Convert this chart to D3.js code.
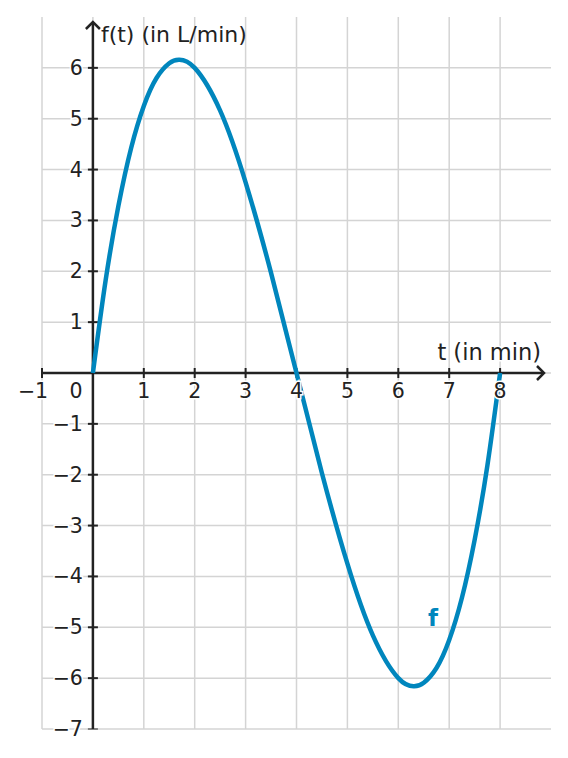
<!DOCTYPE html>
<html><head><meta charset="utf-8">
<script src="https://cdn.jsdelivr.net/npm/d3@7"></script>
<style>body{margin:0;background:#fff}text{font-family:"DejaVu Sans",sans-serif}</style>
</head><body><svg id="c" width="568" height="758"></svg>
<script>
const tVals = [0,0.25,0.5,0.75,1,1.25,1.5,1.69,2,2.5,3,3.5,4,4.5,5,5.5,6,6.31,6.5,6.75,7,7.25,7.5,7.75,8];
const fVals = [0,1.82,3.28,4.42,5.25,5.8,6.09,6.16,6.0,5.16,3.75,1.97,0,-1.97,-3.75,-5.16,-6.0,-6.16,-6.09,-5.8,-5.25,-4.42,-3.28,-1.82,0];
const xTicks = [-1,0,1,2,3,4,5,6,7,8];
const yTicks = [-7,-6,-5,-4,-3,-2,-1,1,2,3,4,5,6];
const xGrid = [-1,0,1,2,3,4,5,6,7,8];
const yGrid = [-7,-6,-5,-4,-3,-2,-1,0,1,2,3,4,5,6];

const svg = d3.select("#c");
const x = d3.scaleLinear().domain([-1,9]).range([42,551]);
const y = d3.scaleLinear().domain([-7,7]).range([729,17]);
const gridC = "#d4d4d4", axC = "#222", curveC = "#0086bd";

svg.append("g").selectAll("line").data(xGrid).join("line")
  .attr("x1",d=>x(d)).attr("x2",d=>x(d)).attr("y1",y(7)).attr("y2",y(-7))
  .attr("stroke",gridC).attr("stroke-width",1.5);
svg.append("g").selectAll("line").data(yGrid).join("line")
  .attr("x1",x(-1)).attr("x2",x(9)).attr("y1",d=>y(d)).attr("y2",d=>y(d))
  .attr("stroke",gridC).attr("stroke-width",1.5);

// axes
svg.append("line").attr("x1",x(-1)).attr("x2",x(9)-8).attr("y1",y(0)).attr("y2",y(0)).attr("stroke",axC).attr("stroke-width",2.5);
svg.append("path").attr("d",`M${x(9)-14},${y(0)-7} L${x(9)-7},${y(0)} L${x(9)-14},${y(0)+7}`).attr("fill","none").attr("stroke",axC).attr("stroke-width",2.5);
svg.append("line").attr("x1",x(0)).attr("x2",x(0)).attr("y1",y(-7)).attr("y2",y(7)+6).attr("stroke",axC).attr("stroke-width",2.5);
svg.append("path").attr("d",`M${x(0)-7},${y(7)+12} L${x(0)},${y(7)+5} L${x(0)+7},${y(7)+12}`).attr("fill","none").attr("stroke",axC).attr("stroke-width",2.5);

// x ticks
svg.append("g").selectAll("line").data(xTicks.filter(d=>d!==0)).join("line")
  .attr("x1",d=>x(d)).attr("x2",d=>x(d)).attr("y1",y(0)-5).attr("y2",y(0)+5)
  .attr("stroke",axC).attr("stroke-width",2);
// y ticks
svg.append("g").selectAll("line").data(yTicks).join("line")
  .attr("x1",x(0)-5).attr("x2",x(0)+5).attr("y1",d=>y(d)).attr("y2",d=>y(d))
  .attr("stroke",axC).attr("stroke-width",d=>d===-7?1:2);

const line = d3.line().x(d=>x(d[0])).y(d=>y(d[1])).curve(d3.curveNatural);
svg.append("path").datum(tVals.map((t,i)=>[t,fVals[i]])).attr("d",line)
  .attr("fill","none").attr("stroke",curveC).attr("stroke-width",4.5);

const fmt = d=>d<0?"\u2212"+Math.abs(d):d;
svg.append("g").selectAll("text").data(xTicks).join("text")
  .attr("x",d=>d===0?x(0)-17:(d===-1?x(-1)-9:x(d))).attr("y",y(0)+25)
  .attr("text-anchor","middle").attr("font-size",20.5).attr("fill",axC)
  .attr("stroke","#fff").attr("stroke-width",3).attr("paint-order","stroke")
  .text(fmt);
svg.append("g").selectAll("text").data(yTicks).join("text")
  .attr("x",x(0)-10).attr("y",d=>y(d)+7).attr("text-anchor","end")
  .attr("font-size",20.5).attr("fill",axC)
  .attr("stroke","#fff").attr("stroke-width",3).attr("paint-order","stroke")
  .text(fmt);

svg.append("text").attr("x",x(0)+8).attr("y",42).attr("font-size",22).attr("fill",axC).text("f(t) (in L/min)");
svg.append("text").attr("x",541).attr("y",360).attr("text-anchor","end").attr("font-size",22.5).attr("fill",axC)
  .attr("stroke","#fff").attr("stroke-width",3).attr("paint-order","stroke").text("t (in min)");
svg.append("text").attr("x",433).attr("y",626).attr("text-anchor","middle").attr("font-size",23).attr("font-weight","bold").attr("fill",curveC).text("f");
</script></body></html>
